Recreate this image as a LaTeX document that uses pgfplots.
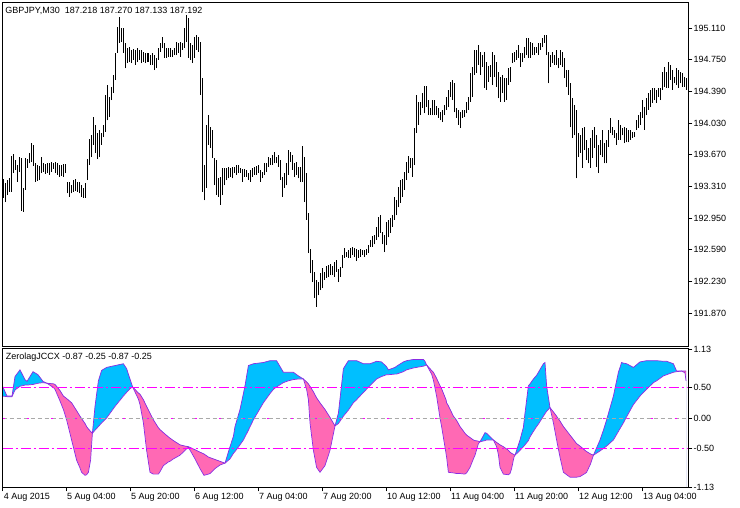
\documentclass[border=0pt]{standalone}
\usepackage{fontspec}
\setmainfont{Liberation Sans}
\usepackage{pgfplots}
\pgfplotsset{compat=1.18}
\usepackage{pgfplotstable}

\definecolor{jup}{HTML}{00BFFF}
\definecolor{jdn}{HTML}{FF69B4}
\definecolor{jline}{HTML}{8A2BE2}
\definecolor{lvl}{HTML}{FF00FF}
\definecolor{zero}{HTML}{A9A9A9}

% ZerolagJCCX: fast (F) and slow (S) lines
\pgfplotstableread{
i F S
-0.7 0.52 0.36
1.5 0.36 0.35
4 0.36 0.35
5.5 0.68 0.46
8 0.79 0.52
10.5 0.63 0.54
11.5 0.60 0.54
14.5 0.76 0.55
17 0.71 0.57
19.5 0.60 0.58
21.5 0.57 0.57
24.7 0.50 0.56
25.5 0.47 0.55
28 0.28 0.45
29.7 0.14 0.36
31.3 -0.03 0.32
33.8 -0.36 0.25
36.3 -0.69 0.12
38 -0.82 0.03
38.8 -0.89 -0.01
40.5 -0.94 -0.09
41.3 -0.93 -0.14
42.2 -0.89 -0.18
43.3 -0.69 -0.22
44.2 -0.25 -0.25
45.5 0.19 -0.20
47.2 0.61 -0.14
48.8 0.78 -0.08
51.3 0.83 0.00
55.5 0.86 0.19
59.7 0.89 0.36
61.3 0.81 0.42
63 0.64 0.48
64.3 0.51 0.51
67.2 0.31 0.41
68 0.22 0.39
69.7 -0.08 0.30
71.3 -0.53 0.19
73 -0.89 0.08
74.7 -0.92 -0.03
77.2 -0.92 -0.16
78 -0.88 -0.19
79.7 -0.78 -0.24
82.2 -0.72 -0.31
83 -0.71 -0.33
84.7 -0.67 -0.37
88 -0.61 -0.44
90.5 -0.53 -0.46
92.2 -0.48 -0.47
95.5 -0.67 -0.52
98 -0.83 -0.56
100 -0.94 -0.59
102.2 -0.92 -0.64
103 -0.91 -0.65
105.5 -0.83 -0.68
108 -0.77 -0.71
108.8 -0.76 -0.72
110.5 -0.74 -0.74
113 -0.47 -0.67
114.7 -0.30 -0.58
115.5 -0.14 -0.55
118 0.14 -0.44
119.7 0.40 -0.36
120.5 0.53 -0.31
122.2 0.86 -0.20
124.7 0.89 -0.03
129.7 0.91 0.25
133 0.94 0.40
134.7 0.94 0.47
136.3 0.94 0.51
139.7 0.75 0.58
142.2 0.75 0.61
144.7 0.75 0.63
147.2 0.69 0.64
149.7 0.64 0.64
151.3 0.47 0.59
152.2 0.30 0.56
153 -0.08 0.52
154.7 -0.53 0.43
156.3 -0.81 0.33
158 -0.89 0.25
160.5 -0.78 0.14
163 -0.53 0.01
165.5 -0.13 -0.13
167.2 0.08 -0.09
169.7 0.81 0.03
172.2 0.94 0.13
174.7 0.94 0.25
176.3 0.94 0.30
179.7 0.89 0.42
183 0.89 0.53
186.3 0.93 0.64
188.8 0.92 0.68
191.3 0.84 0.71
192.2 0.79 0.71
195.5 0.83 0.72
196.3 0.85 0.72
199.7 0.92 0.76
201.3 0.94 0.79
204.7 0.96 0.82
206.3 0.96 0.83
209.7 0.96 0.85
210.5 0.93 0.86
211.3 0.87 0.87
213.8 0.72 0.78
214.7 0.62 0.75
216.3 0.36 0.65
218 0.00 0.53
218.8 -0.14 0.48
221 -0.58 0.30
221.3 -0.64 0.25
222.2 -0.89 0.20
224.7 -0.90 0.03
226.3 -0.91 -0.04
228 -0.91 -0.14
230.5 -0.92 -0.25
231.3 -0.90 -0.28
233 -0.81 -0.32
234.7 -0.67 -0.36
235.5 -0.61 -0.37
237.2 -0.42 -0.38
238 -0.39 -0.39
240.5 -0.24 -0.37
241.3 -0.25 -0.36
242.2 -0.28 -0.36
244.7 -0.36 -0.36
246.3 -0.47 -0.40
247.2 -0.60 -0.42
248 -0.81 -0.44
249.7 -0.92 -0.47
252.2 -0.93 -0.53
253 -0.91 -0.56
253.8 -0.83 -0.58
255 -0.64 -0.60
255.5 -0.61 -0.61
258 -0.36 -0.53
259.7 -0.15 -0.47
260.5 0.08 -0.44
262.2 0.53 -0.37
263 0.56 -0.31
264.7 0.64 -0.22
266.3 0.70 -0.14
267.2 0.75 -0.10
269.7 0.89 0.03
270.5 0.91 0.07
271.3 0.53 0.11
273 0.17 0.17
274.7 -0.08 0.10
276.3 -0.36 0.03
278 -0.64 -0.05
279.7 -0.89 -0.14
283 -0.97 -0.28
286.3 -0.97 -0.42
288 -0.96 -0.46
290.5 -0.91 -0.53
291.3 -0.89 -0.55
293.3 -0.75 -0.59
294.7 -0.61 -0.61
298 -0.36 -0.54
299.7 -0.20 -0.50
301.3 -0.03 -0.46
304.7 0.36 -0.36
307.2 0.75 -0.22
308.8 0.91 -0.13
309.7 0.90 -0.08
311.3 0.89 0.02
314.7 0.83 0.22
318 0.92 0.36
319.7 0.93 0.42
321.3 0.94 0.47
324.7 0.94 0.58
326.3 0.94 0.61
329.7 0.93 0.69
331.3 0.93 0.71
334.7 0.89 0.75
336.3 0.77 0.76
338.8 0.77 0.77
340.5 0.74 0.77
341 0.61 0.77
}\ind

\pgfplotsset{
  mtpanel/.style={
    scale only axis, width=685.6pt,
    xmin=-0.65, xmax=342.15,
    axis line style={line width=0.8pt},
    tick style={black, line width=0.6pt},
    major tick length=4pt, tick align=outside,
    ytick pos=right, yticklabel pos=right,
    yticklabel style={anchor=west, inner sep=0pt, xshift=1pt},
    /pgf/number format/assume math mode=true,
  },
  level/.style={lvl, line width=1pt, dash pattern=on 10pt off 3pt on 2pt off 3pt},
}

\begin{document}
\fontsize{9}{10}\selectfont
\begin{tikzpicture}

\begin{axis}[mtpanel, name=top, at={(0pt,0pt)}, anchor=north west, height=343.3pt,
  ymin=191.494, ymax=195.397, xtick=\empty, unbounded coords=jump,
  ytick={191.87,192.23,192.59,192.95,193.31,193.67,194.03,194.39,194.75,195.11},
  yticklabels={191.870,192.230,192.590,192.950,193.310,193.670,194.030,194.390,194.750,195.110}]
% one bar per half hour: (index, low) (index, high), then a break
\addplot[black, line width=1pt] coordinates {
(0,193.18)(0,193.39)(0,nan) (1,193.13)(1,193.35)(1,nan) (2,193.21)(2,193.38)(2,nan) (3,193.25)(3,193.40)(3,nan) (4,193.25)(4,193.65)(4,nan) (5,193.46)(5,193.68)(5,nan)
(6,193.50)(6,193.61)(6,nan) (7,193.36)(7,193.55)(7,nan) (8,193.47)(8,193.64)(8,nan) (9,193.03)(9,193.63)(9,nan) (10,193.02)(10,193.29)(10,nan) (11,193.27)(11,193.63)(11,nan)
(12,193.52)(12,193.62)(12,nan) (13,193.57)(13,193.69)(13,nan) (14,193.59)(14,193.80)(14,nan) (15,193.54)(15,193.78)(15,nan) (16,193.36)(16,193.57)(16,nan) (17,193.37)(17,193.55)(17,nan)
(18,193.38)(18,193.54)(18,nan) (19,193.46)(19,193.64)(19,nan) (20,193.47)(20,193.57)(20,nan) (21,193.45)(21,193.56)(21,nan) (22,193.46)(22,193.57)(22,nan) (23,193.44)(23,193.57)(23,nan)
(24,193.47)(24,193.59)(24,nan) (25,193.51)(25,193.57)(25,nan) (26,193.46)(26,193.59)(26,nan) (27,193.44)(27,193.57)(27,nan) (28,193.42)(28,193.55)(28,nan) (29,193.43)(29,193.55)(29,nan)
(30,193.42)(30,193.56)(30,nan) (31,193.46)(31,193.56)(31,nan) (32,193.23)(32,193.36)(32,nan) (33,193.19)(33,193.36)(33,nan) (34,193.23)(34,193.32)(34,nan) (35,193.25)(35,193.38)(35,nan)
(36,193.26)(36,193.39)(36,nan) (37,193.25)(37,193.36)(37,nan) (38,193.23)(38,193.36)(38,nan) (39,193.19)(39,193.32)(39,nan) (40,193.18)(40,193.29)(40,nan) (41,193.18)(41,193.35)(41,nan)
(42,193.38)(42,193.62)(42,nan) (43,193.55)(43,193.85)(43,nan) (44,193.64)(44,193.89)(44,nan) (45,193.78)(45,194.10)(45,nan) (46,193.69)(46,194.01)(46,nan) (47,193.62)(47,193.92)(47,nan)
(48,193.64)(48,193.95)(48,nan) (49,193.78)(49,193.92)(49,nan) (50,193.87)(50,194.01)(50,nan) (51,193.93)(51,194.35)(51,nan) (52,194.06)(52,194.46)(52,nan) (53,194.10)(53,194.33)(53,nan)
(54,194.29)(54,194.44)(54,nan) (55,194.37)(55,194.58)(55,nan) (56,194.52)(56,194.83)(56,nan) (57,194.83)(57,195.12)(57,nan) (58,194.94)(58,195.24)(58,nan) (59,194.95)(59,195.11)(59,nan)
(60,194.83)(60,195.11)(60,nan) (61,194.65)(61,194.94)(61,nan) (62,194.71)(62,194.88)(62,nan) (63,194.72)(63,194.89)(63,nan) (64,194.71)(64,194.86)(64,nan) (65,194.75)(65,194.87)(65,nan)
(66,194.69)(66,194.86)(66,nan) (67,194.72)(67,194.88)(67,nan) (68,194.75)(68,194.86)(68,nan) (69,194.71)(69,194.86)(69,nan) (70,194.72)(70,194.84)(70,nan) (71,194.71)(71,194.83)(71,nan)
(72,194.72)(72,194.83)(72,nan) (73,194.69)(73,194.80)(73,nan) (74,194.69)(74,194.83)(74,nan) (75,194.63)(75,194.80)(75,nan) (76,194.65)(76,194.77)(76,nan) (77,194.75)(77,194.88)(77,nan)
(78,194.84)(78,194.94)(78,nan) (79,194.88)(79,195.01)(79,nan) (80,194.77)(80,194.94)(80,nan) (81,194.77)(81,194.88)(81,nan) (82,194.78)(82,194.88)(82,nan) (83,194.78)(83,194.88)(83,nan)
(84,194.78)(84,194.86)(84,nan) (85,194.80)(85,194.88)(85,nan) (86,194.80)(86,194.95)(86,nan) (87,194.83)(87,194.94)(87,nan) (88,194.78)(88,194.95)(88,nan) (89,194.86)(89,194.94)(89,nan)
(90,194.88)(90,195.11)(90,nan) (91,194.95)(91,195.26)(91,nan) (92,194.77)(92,195.22)(92,nan) (93,194.75)(93,194.94)(93,nan) (94,194.71)(94,194.92)(94,nan) (95,194.77)(95,195.01)(95,nan)
(96,194.86)(96,195.03)(96,nan) (97,194.84)(97,195.01)(97,nan) (98,194.35)(98,194.95)(98,nan) (99,193.25)(99,194.54)(99,nan) (100,193.15)(100,193.55)(100,nan) (101,193.29)(101,194.01)(101,nan)
(102,193.78)(102,194.12)(102,nan) (103,193.75)(103,193.98)(103,nan) (104,193.63)(104,193.95)(104,nan) (105,193.32)(105,193.63)(105,nan) (106,193.21)(106,193.61)(106,nan) (107,193.19)(107,193.40)(107,nan)
(108,193.10)(108,193.42)(108,nan) (109,193.21)(109,193.52)(109,nan) (110,193.32)(110,193.52)(110,nan) (111,193.38)(111,193.52)(111,nan) (112,193.40)(112,193.53)(112,nan) (113,193.42)(113,193.52)(113,nan)
(114,193.40)(114,193.53)(114,nan) (115,193.46)(115,193.53)(115,nan) (116,193.44)(116,193.55)(116,nan) (117,193.46)(117,193.55)(117,nan) (118,193.46)(118,193.52)(118,nan) (119,193.36)(119,193.51)(119,nan)
(120,193.42)(120,193.51)(120,nan) (121,193.42)(121,193.50)(121,nan) (122,193.38)(122,193.46)(122,nan) (123,193.36)(123,193.50)(123,nan) (124,193.42)(124,193.52)(124,nan) (125,193.44)(125,193.53)(125,nan)
(126,193.44)(126,193.54)(126,nan) (127,193.46)(127,193.55)(127,nan) (128,193.36)(128,193.50)(128,nan) (129,193.40)(129,193.47)(129,nan) (130,193.44)(130,193.57)(130,nan) (131,193.47)(131,193.57)(131,nan)
(132,193.53)(132,193.64)(132,nan) (133,193.55)(133,193.63)(133,nan) (134,193.55)(134,193.67)(134,nan) (135,193.57)(135,193.70)(135,nan) (136,193.57)(136,193.64)(136,nan) (137,193.53)(137,193.67)(137,nan)
(138,193.38)(138,193.61)(138,nan) (139,193.19)(139,193.42)(139,nan) (140,193.29)(140,193.46)(140,nan) (141,193.32)(141,193.57)(141,nan) (142,193.44)(142,193.72)(142,nan) (143,193.59)(143,193.70)(143,nan)
(144,193.50)(144,193.67)(144,nan) (145,193.42)(145,193.57)(145,nan) (146,193.44)(146,193.59)(146,nan) (147,193.40)(147,193.53)(147,nan) (148,193.36)(148,193.53)(148,nan) (149,193.36)(149,193.77)(149,nan)
(150,193.13)(150,193.64)(150,nan) (151,192.93)(151,193.46)(151,nan) (152,192.55)(152,193.01)(152,nan) (153,192.32)(153,192.60)(153,nan) (154,192.22)(154,192.47)(154,nan) (155,192.04)(155,192.34)(155,nan)
(156,191.94)(156,192.25)(156,nan) (157,192.07)(157,192.22)(157,nan) (158,192.13)(158,192.32)(158,nan) (159,192.15)(159,192.38)(159,nan) (160,192.25)(160,192.34)(160,nan) (161,192.27)(161,192.40)(161,nan)
(162,192.28)(162,192.42)(162,nan) (163,192.30)(163,192.43)(163,nan) (164,192.30)(164,192.40)(164,nan) (165,192.28)(165,192.45)(165,nan) (166,192.34)(166,192.47)(166,nan) (167,192.22)(167,192.37)(167,nan)
(168,192.28)(168,192.39)(168,nan) (169,192.38)(169,192.53)(169,nan) (170,192.50)(170,192.61)(170,nan) (171,192.51)(171,192.56)(171,nan) (172,192.50)(172,192.59)(172,nan) (173,192.50)(173,192.61)(173,nan)
(174,192.53)(174,192.62)(174,nan) (175,192.51)(175,192.61)(175,nan) (176,192.46)(176,192.60)(176,nan) (177,192.50)(177,192.59)(177,nan) (178,192.51)(178,192.60)(178,nan) (179,192.53)(179,192.59)(179,nan)
(180,192.51)(180,192.59)(180,nan) (181,192.53)(181,192.60)(181,nan) (182,192.55)(182,192.64)(182,nan) (183,192.62)(183,192.70)(183,nan) (184,192.62)(184,192.74)(184,nan) (185,192.65)(185,192.76)(185,nan)
(186,192.70)(186,192.85)(186,nan) (187,192.73)(187,192.96)(187,nan) (188,192.78)(188,192.98)(188,nan) (189,192.65)(189,192.79)(189,nan) (190,192.56)(190,192.76)(190,nan) (191,192.64)(191,192.90)(191,nan)
(192,192.73)(192,192.93)(192,nan) (193,192.78)(193,192.95)(193,nan) (194,192.85)(194,192.98)(194,nan) (195,192.93)(195,193.19)(195,nan) (196,192.98)(196,193.15)(196,nan) (197,193.07)(197,193.30)(197,nan)
(198,193.12)(198,193.38)(198,nan) (199,193.19)(199,193.39)(199,nan) (200,193.27)(200,193.47)(200,nan) (201,193.38)(201,193.59)(201,nan) (202,193.46)(202,193.65)(202,nan) (203,193.52)(203,193.63)(203,nan)
(204,193.42)(204,193.63)(204,nan) (205,193.55)(205,193.97)(205,nan) (206,193.92)(206,194.35)(206,nan) (207,194.01)(207,194.27)(207,nan) (208,194.12)(208,194.27)(208,nan) (209,194.20)(209,194.37)(209,nan)
(210,194.14)(210,194.45)(210,nan) (211,194.21)(211,194.45)(211,nan) (212,194.12)(212,194.29)(212,nan) (213,194.12)(213,194.20)(213,nan) (214,194.12)(214,194.29)(214,nan) (215,194.12)(215,194.29)(215,nan)
(216,194.12)(216,194.22)(216,nan) (217,194.09)(217,194.20)(217,nan) (218,194.06)(218,194.15)(218,nan) (219,194.04)(219,194.18)(219,nan) (220,194.12)(220,194.23)(220,nan) (221,194.18)(221,194.33)(221,nan)
(222,194.21)(222,194.41)(222,nan) (223,194.33)(223,194.50)(223,nan) (224,194.29)(224,194.52)(224,nan) (225,194.15)(225,194.48)(225,nan) (226,194.09)(226,194.20)(226,nan) (227,194.01)(227,194.18)(227,nan)
(228,193.97)(228,194.15)(228,nan) (229,194.09)(229,194.18)(229,nan) (230,194.10)(230,194.18)(230,nan) (231,194.14)(231,194.27)(231,nan) (232,194.18)(232,194.33)(232,nan) (233,194.27)(233,194.60)(233,nan)
(234,194.33)(234,194.67)(234,nan) (235,194.58)(235,194.86)(235,nan) (236,194.60)(236,194.86)(236,nan) (237,194.69)(237,194.92)(237,nan) (238,194.58)(238,194.84)(238,nan) (239,194.67)(239,194.80)(239,nan)
(240,194.43)(240,194.84)(240,nan) (241,194.41)(241,194.72)(241,nan) (242,194.50)(242,194.68)(242,nan) (243,194.55)(243,194.69)(243,nan) (244,194.46)(244,194.84)(244,nan) (245,194.55)(245,194.80)(245,nan)
(246,194.44)(246,194.72)(246,nan) (247,194.31)(247,194.61)(247,nan) (248,194.27)(248,194.55)(248,nan) (249,194.37)(249,194.58)(249,nan) (250,194.27)(250,194.54)(250,nan) (251,194.29)(251,194.54)(251,nan)
(252,194.46)(252,194.65)(252,nan) (253,194.50)(253,194.67)(253,nan) (254,194.71)(254,194.83)(254,nan) (255,194.72)(255,194.84)(255,nan) (256,194.75)(256,194.86)(256,nan) (257,194.77)(257,194.92)(257,nan)
(258,194.67)(258,194.83)(258,nan) (259,194.72)(259,194.83)(259,nan) (260,194.77)(260,194.89)(260,nan) (261,194.80)(261,195.00)(261,nan) (262,194.77)(262,195.00)(262,nan) (263,194.77)(263,194.95)(263,nan)
(264,194.80)(264,194.94)(264,nan) (265,194.80)(265,194.89)(265,nan) (266,194.83)(266,194.89)(266,nan) (267,194.80)(267,194.94)(267,nan) (268,194.86)(268,194.94)(268,nan) (269,194.89)(269,195.00)(269,nan)
(270,194.94)(270,195.03)(270,nan) (271,194.80)(271,195.03)(271,nan) (272,194.48)(272,194.84)(272,nan) (273,194.67)(273,194.80)(273,nan) (274,194.71)(274,194.84)(274,nan) (275,194.69)(275,194.80)(275,nan)
(276,194.69)(276,194.86)(276,nan) (277,194.65)(277,194.77)(277,nan) (278,194.69)(278,194.86)(278,nan) (279,194.67)(279,194.84)(279,nan) (280,194.54)(280,194.77)(280,nan) (281,194.44)(281,194.63)(281,nan)
(282,194.35)(282,194.63)(282,nan) (283,193.98)(283,194.48)(283,nan) (284,193.86)(284,194.31)(284,nan) (285,193.89)(285,194.23)(285,nan) (286,193.40)(286,194.18)(286,nan) (287,193.64)(287,193.92)(287,nan)
(288,193.69)(288,193.89)(288,nan) (289,193.52)(289,193.97)(289,nan) (290,193.72)(290,193.98)(290,nan) (291,193.61)(291,193.84)(291,nan) (292,193.57)(292,193.75)(292,nan) (293,193.52)(293,193.86)(293,nan)
(294,193.63)(294,193.95)(294,nan) (295,193.75)(295,193.98)(295,nan) (296,193.53)(296,193.89)(296,nan) (297,193.46)(297,193.78)(297,nan) (298,193.67)(298,193.84)(298,nan) (299,193.64)(299,193.95)(299,nan)
(300,193.57)(300,193.80)(300,nan) (301,193.57)(301,193.84)(301,nan) (302,193.76)(302,193.95)(302,nan) (303,193.92)(303,194.09)(303,nan) (304,193.89)(304,193.98)(304,nan) (305,193.86)(305,193.95)(305,nan)
(306,193.78)(306,193.92)(306,nan) (307,193.84)(307,194.06)(307,nan) (308,193.84)(308,194.01)(308,nan) (309,193.89)(309,193.97)(309,nan) (310,193.80)(310,193.98)(310,nan) (311,193.81)(311,193.97)(311,nan)
(312,193.81)(312,193.95)(312,nan) (313,193.84)(313,193.95)(313,nan) (314,193.86)(314,193.93)(314,nan) (315,193.87)(315,193.93)(315,nan) (316,193.95)(316,194.06)(316,nan) (317,193.97)(317,194.12)(317,nan)
(318,194.01)(318,194.15)(318,nan) (319,194.09)(319,194.29)(319,nan) (320,193.95)(320,194.21)(320,nan) (321,194.12)(321,194.31)(321,nan) (322,194.18)(322,194.37)(322,nan) (323,194.21)(323,194.41)(323,nan)
(324,194.26)(324,194.43)(324,nan) (325,194.29)(325,194.43)(325,nan) (326,194.26)(326,194.41)(326,nan) (327,194.33)(327,194.43)(327,nan) (328,194.29)(328,194.43)(328,nan) (329,194.41)(329,194.61)(329,nan)
(330,194.44)(330,194.67)(330,nan) (331,194.43)(331,194.61)(331,nan) (332,194.43)(332,194.72)(332,nan) (333,194.52)(333,194.69)(333,nan) (334,194.41)(334,194.63)(334,nan) (335,194.48)(335,194.55)(335,nan)
(336,194.46)(336,194.65)(336,nan) (337,194.43)(337,194.63)(337,nan) (338,194.48)(338,194.61)(338,nan) (339,194.44)(339,194.60)(339,nan) (340,194.44)(340,194.55)(340,nan) (341,194.41)(341,194.54)(341,nan)
};
\node[anchor=north west, inner sep=0pt, xshift=2.5pt, yshift=-4pt] at (rel axis cs:0,1)
  {GBPJPY,M30\ \ 187.218 187.270 187.133 187.192};
\end{axis}

\begin{axis}[mtpanel, name=bot, at={(top.south west)}, anchor=north west, yshift=-2.3pt,
  height=139pt, axis on top,
  ymin=-1.136, ymax=1.143,
  xtick={31,63,95,127,159,191,223,255,287,319},
  xticklabels={5 Aug 04:00,5 Aug 20:00,6 Aug 12:00,7 Aug 04:00,7 Aug 20:00,10 Aug 12:00,11 Aug 04:00,11 Aug 20:00,12 Aug 12:00,13 Aug 04:00},
  extra x ticks={-0.65}, extra x tick labels={4 Aug 2015},
  xtick pos=bottom,
  xticklabel style={anchor=north west, inner sep=0pt, xshift=1pt, yshift=-1.3pt},
  ytick={-1.13,-0.5,0,0.5,1.13},
  yticklabels={-1.13,-0.50,0.00,0.50,1.13}]
% blue where F is above S, pink where S is above F
\addplot[fill=jup, draw=none] table[x=i, y expr={max(\thisrow{F},\thisrow{S})}] {\ind}
  -- (axis cs:341,-1.3) -- (axis cs:-0.7,-1.3) -- cycle;
\addplot[fill=jdn, draw=none] table[x=i, y=S] {\ind}
  -- (axis cs:341,-1.3) -- (axis cs:-0.7,-1.3) -- cycle;
\addplot[fill=white, draw=none] table[x=i, y expr={min(\thisrow{F},\thisrow{S})}] {\ind}
  -- (axis cs:341,-1.3) -- (axis cs:-0.7,-1.3) -- cycle;
\addplot[jline, line width=0.7pt] table[x=i, y=F] {\ind};
\addplot[jline, line width=0.7pt] table[x=i, y=S] {\ind};
\addplot[level] coordinates {(-0.65,0.5) (342.15,0.5)};
\addplot[level] coordinates {(-0.65,-0.5) (342.15,-0.5)};
\addplot[zero, line width=0.8pt, dash pattern=on 4pt off 3pt] coordinates {(-0.65,0) (342.15,0)};
\addplot[lvl, line width=0.8pt, dash pattern=on 2pt off 22pt] coordinates {(-0.65,0) (342.15,0)};
\node[anchor=north west, inner sep=0pt, xshift=3pt, yshift=-4.5pt] at (rel axis cs:0,1)
  {ZerolagJCCX -0.87 -0.25 -0.87 -0.25};
\end{axis}

\pgfresetboundingbox
\path[use as bounding box] (top.north west) ++(-2.7pt,2.7pt) rectangle ++(740pt,-508pt);
\end{tikzpicture}
\end{document}
